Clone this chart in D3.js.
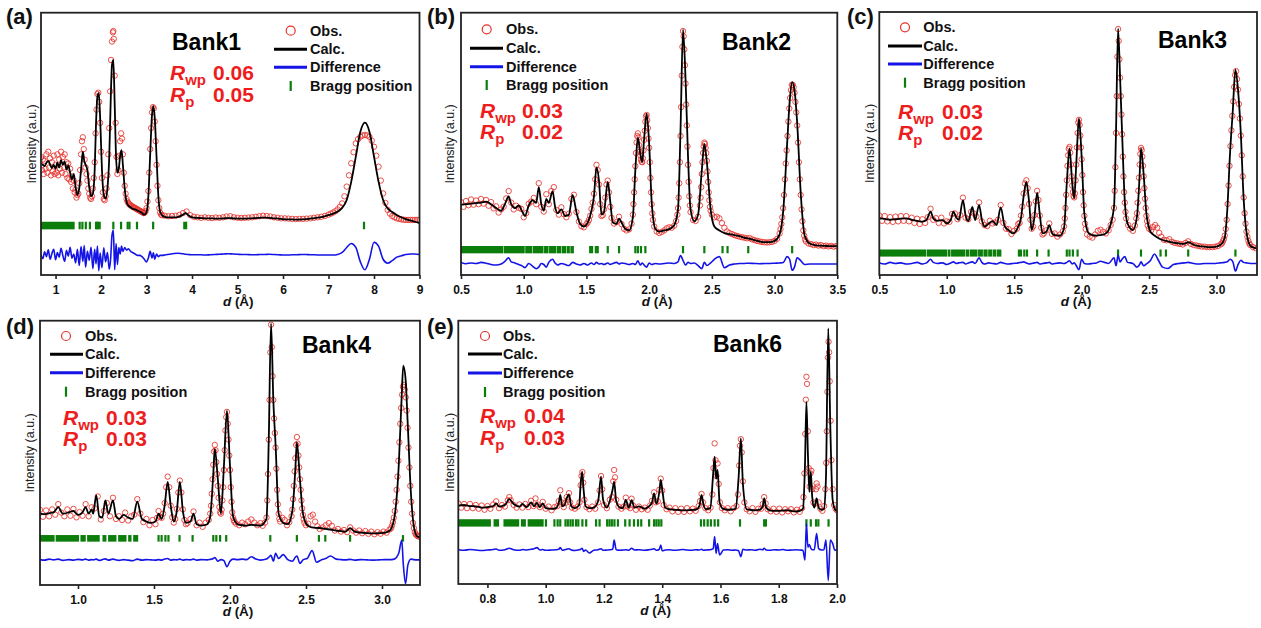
<!DOCTYPE html>
<html><head><meta charset="utf-8">
<script src="https://cdn.jsdelivr.net/npm/d3@7"></script>
<style>
html,body{margin:0;padding:0;background:#fff;}
svg text{font-family:"Liberation Sans",Arial,Helvetica,sans-serif;}
</style></head><body>
<svg id="chart" width="1261" height="628"></svg>
<script>
// ---------------- DATA (intensity in arbitrary units, 0-100 of plot height) ----------------
// Panel (a) Bank1 : calculated profile + difference (shared d grid)
const dA = [0.68,0.72,0.76,0.80,0.84,0.88,0.92,0.96,1.00,1.04,
1.08,1.12,1.16,1.20,1.24,1.28,1.32,1.36,1.40,1.44,
1.48,1.52,1.56,1.60,1.63,1.66,1.70,1.74,1.78,1.82,
1.86,1.89,1.92,1.95,1.98,2.02,2.06,2.10,2.14,2.18,
2.21,2.24,2.27,2.30,2.33,2.36,2.39,2.42,2.45,2.48,
2.52,2.56,2.60,2.65,2.70,2.75,2.80,2.85,2.90,2.95,
3.00,3.04,3.08,3.12,3.15,3.18,3.22,3.26,3.30,3.35,
3.40,3.50,3.60,3.70,3.80,3.86,3.92,4.00,4.10,4.20,
4.30,4.40,4.50,4.60,4.70,4.80,4.90,5.00,5.10,5.20,
5.30,5.40,5.50,5.60,5.70,5.80,5.90,6.00,6.10,6.20,
6.30,6.40,6.50,6.60,6.70,6.80,6.90,7.00,7.10,7.20,
7.30,7.40,7.50,7.60,7.70,7.80,7.90,8.00,8.10,8.20,
8.30,8.40,8.50,8.60,8.70,8.80,8.90,9.00];
const calcA = [42.5,42.0,41.5,42.8,43.5,42.0,40.8,42.0,40.5,42.8,
41.0,43.8,42.0,43.2,40.2,41.8,39.0,36.5,38.5,33.5,
30.5,33.0,40.0,47.0,43.5,42.0,40.0,33.5,30.0,31.0,
40.0,58.0,68.0,69.3,60.0,40.0,30.5,29.2,33.0,45.0,
65.0,80.0,82.0,65.0,45.0,39.0,40.5,45.5,47.6,42.0,
33.0,28.0,26.5,25.8,25.2,25.0,24.6,24.2,23.6,23.0,
24.0,30.0,46.0,61.0,64.4,60.0,45.0,30.0,24.0,22.6,
22.2,22.0,22.0,22.2,23.0,23.6,22.8,22.0,21.8,21.7,
21.6,21.6,21.5,21.5,21.6,21.7,21.6,21.5,21.5,21.5,
21.6,21.7,21.8,21.9,21.8,21.6,21.5,21.3,21.2,21.2,
21.1,21.2,21.3,21.5,21.7,22.0,22.3,22.8,23.4,24.2,
25.6,28.6,35.6,45.1,54.6,58.1,54.6,45.1,35.6,28.6,
25.4,24.0,22.9,22.0,21.3,20.8,20.3,19.8];
const diffA = [7.8,6.2,8.8,7.0,9.6,6.0,8.2,9.8,5.8,8.6,
6.8,10.2,7.4,5.2,9.4,7.2,10.6,6.4,8.0,4.6,
9.8,3.6,10.8,5.2,11.2,3.0,9.0,5.6,10.6,2.4,
9.8,4.2,11.0,1.6,8.4,2.8,10.4,5.0,8.6,2.2,
6.0,15.0,17.0,2.0,12.0,4.0,10.5,8.0,11.0,9.0,
10.5,9.5,10.0,9.0,8.5,8.0,7.5,7.5,7.0,6.0,
5.0,6.5,9.0,6.5,8.5,6.0,8.0,7.0,7.5,7.5,
7.6,7.9,8.2,8.3,8.1,7.9,7.8,7.7,7.7,7.7,
7.6,7.7,7.8,7.9,8.0,8.1,8.0,7.9,7.8,7.8,
7.7,7.7,7.8,7.8,7.9,7.8,7.7,7.6,7.6,7.7,
7.7,7.8,7.8,7.7,7.7,7.6,7.6,7.6,7.6,7.8,
8.6,10.5,12.0,10.5,5.0,2.0,6.0,12.5,11.0,6.0,
4.5,5.5,6.8,7.3,7.8,8.0,8.0,7.8];
// Panel (a) observed points
const dObsA = [0.68,0.70,0.72,0.74,0.76,0.78,0.80,0.82,0.84,0.86,
0.88,0.90,0.92,0.94,0.96,0.98,1.00,1.02,1.04,1.06,
1.08,1.10,1.12,1.14,1.16,1.18,1.20,1.22,1.24,1.26,
1.28,1.30,1.32,1.34,1.36,1.38,1.40,1.42,1.44,1.46,
1.48,1.50,1.52,1.54,1.56,1.58,1.60,1.62,1.64,1.66,
1.68,1.70,1.72,1.74,1.76,1.78,1.80,1.82,1.84,
1.86,1.88,1.90,1.92,1.94,1.96,1.98,2.00,2.02,2.04,
2.06,2.08,2.10,2.12,2.14,2.16,2.18,2.20,2.22,2.24,
2.26,2.27,2.28,
2.30,2.32,2.34,2.36,2.38,2.40,2.42,2.44,2.46,2.48,2.50,
2.52,2.54,2.56,2.58,2.60,2.62,2.64,2.66,2.68,2.70,
2.72,2.74,2.76,2.78,2.80,2.82,2.84,2.86,2.88,2.90,
2.92,2.94,2.96,2.98,3.00,3.02,3.04,3.06,3.08,3.10,
3.12,3.14,3.16,3.18,3.20,3.22,3.24,3.26,3.28,3.30,
3.32,3.34,
3.40,3.48,3.56,3.64,3.72,3.80,3.88,3.96,4.04,4.12,
4.20,4.28,4.36,4.44,4.52,4.60,4.68,4.76,4.84,4.92,
5.00,5.08,5.16,5.24,5.32,5.40,5.48,5.56,5.64,5.72,
5.80,5.88,5.96,6.04,6.12,6.20,6.28,6.36,6.44,6.52,
6.60,6.68,6.76,6.84,6.92,7.00,
7.05,7.10,7.15,7.20,7.25,7.30,7.35,7.40,7.45,7.50,
7.55,7.60,7.65,7.70,7.75,7.80,7.85,7.90,7.95,8.00,
8.05,8.10,8.15,8.20,8.25,8.30,8.35,8.40,8.45,8.50,
8.55,8.60,8.65,8.70,8.75,8.80,8.85,8.90,8.95,9.00];
const obsA = [45.0,40.0,44.0,38.5,43.5,40.5,46.0,39.0,47.0,41.0,
44.5,38.0,43.0,39.5,45.5,38.5,42.0,39.0,46.0,38.0,
44.0,40.5,47.0,39.0,45.0,41.0,46.0,38.5,43.0,37.0,
42.5,36.5,40.5,35.5,37.5,33.0,36.0,31.5,32.5,29.5,
30.5,31.0,35.0,40.0,46.0,51.0,52.5,48.0,44.0,41.0,
38.5,36.0,33.0,31.0,29.5,29.0,30.0,33.0,37.0,
43.0,54.0,63.0,69.0,69.5,66.0,58.0,47.0,37.0,31.5,
29.0,28.5,30.0,33.0,38.0,46.0,56.0,70.0,82.0,89.0,
92.5,93.0,90.0,
76.0,58.0,45.0,38.5,40.0,45.5,51.0,54.0,52.0,46.0,39.0,
34.0,31.0,29.0,28.0,27.5,27.0,26.8,26.4,26.2,26.0,
25.8,25.6,25.4,25.2,25.0,24.8,24.6,24.4,24.2,24.0,
23.8,23.6,23.8,24.4,25.5,28.0,32.0,39.0,48.0,56.0,
62.0,64.0,63.5,58.5,51.0,42.0,34.0,28.5,25.5,23.8,
23.0,22.8,
22.6,22.4,22.5,22.6,22.9,23.6,24.2,22.8,22.2,22.0,
21.8,22.0,21.8,21.7,21.9,21.8,22.0,22.3,22.4,22.0,
21.8,21.7,21.8,21.9,22.0,22.2,22.4,22.6,22.5,22.3,
22.0,21.8,21.6,21.6,21.5,21.4,21.3,21.4,21.4,21.5,
21.6,21.8,22.0,22.2,22.5,23.0,
23.4,23.8,24.3,25.0,26.0,27.3,30.0,33.7,38.0,42.6,
46.8,50.2,51.8,52.7,53.2,53.4,53.2,52.7,51.2,48.9,
45.5,41.3,36.0,31.1,27.5,24.8,23.4,22.5,22.0,21.6,
21.4,21.2,21.1,21.0,21.0,21.0,21.0,21.0,21.0,21.0];
const braggBandA = [[0.68,1.42]];
const braggA = [1.53,1.59,1.665,1.755,1.89,1.91,1.935,1.97,2.27,2.44,2.585,2.625,2.79,3.145,3.83,3.87,7.78];
const ticksA = [1,2,3,4,5,6,7,8,9];

// Panel (b) Bank2
const dB = [0.50,0.54,0.58,0.62,0.66,0.70,0.74,0.78,0.82,0.85,
0.88,0.90,0.93,0.96,0.99,1.01,1.04,1.07,1.10,1.12,
1.14,1.16,1.18,1.20,1.23,1.25,1.27,1.30,1.33,1.36,
1.39,1.42,1.45,1.48,1.51,1.54,1.56,1.58,1.60,1.62,
1.64,1.67,1.69,1.71,1.74,1.76,1.78,1.81,1.84,1.87,
1.89,1.91,1.93,1.945,1.96,1.98,2.00,2.02,2.05,2.08,
2.12,2.16,2.20,2.23,2.25,2.27,2.29,2.31,2.33,2.36,
2.39,2.42,2.44,2.46,2.49,2.52,2.56,2.60,2.64,2.68,
2.72,2.76,2.79,2.84,2.88,2.92,2.96,3.00,3.04,3.07,
3.10,3.12,3.14,3.16,3.18,3.21,3.24,3.28,3.32,3.36,
3.40,3.44,3.48,3.50];
const calcB = [26.7,27.0,27.2,27.4,27.6,28.0,27.0,25.5,24.5,27.0,
30.0,27.0,25.5,26.5,24.0,22.5,26.5,28.5,27.5,33.5,
27.0,24.5,29.0,27.5,32.0,26.0,23.5,25.0,22.5,23.0,
30.5,24.0,19.5,18.5,20.0,24.5,30.0,41.0,36.0,23.0,
24.0,35.5,28.0,20.0,19.5,21.5,20.0,17.5,17.0,22.0,
40.0,52.5,46.0,43.0,52.0,61.5,50.0,28.0,17.5,16.5,
17.0,17.5,19.0,25.0,55.0,93.5,75.0,45.0,25.0,20.5,
23.0,40.0,50.0,43.0,25.0,18.5,17.0,16.0,15.6,15.2,
14.8,14.2,14.0,13.3,12.8,12.5,12.5,13.0,15.5,25.0,
50.0,66.0,73.5,70.0,58.0,30.0,15.0,12.0,11.4,11.2,
11.1,11.0,11.0,11.1];
const diffB = [4.8,4.3,4.6,4.4,4.8,4.5,4.0,3.8,4.2,5.2,
6.6,5.0,4.6,4.0,3.4,2.8,4.4,3.4,2.4,3.0,
4.4,4.0,3.0,4.8,6.0,4.6,3.8,4.4,4.0,3.6,
4.8,4.2,3.8,4.4,3.8,4.6,4.0,4.8,4.2,4.4,
4.0,4.6,4.0,4.4,4.8,4.2,4.6,4.4,4.0,4.4,
4.0,5.4,3.8,4.6,3.8,3.0,4.6,4.0,4.4,4.2,
4.4,4.6,4.4,5.0,7.4,5.6,3.8,4.8,4.4,4.6,
3.6,2.4,4.8,3.6,4.6,6.0,7.0,2.8,3.8,4.2,
4.4,4.4,4.5,4.4,4.3,4.4,4.4,4.5,4.6,4.8,
7.0,6.0,1.8,3.2,6.6,5.4,4.0,4.2,4.2,4.2,
4.2,4.2,4.2,4.2];
const dObsB = [0.50,0.52,0.54,0.56,0.58,0.60,0.62,0.64,0.66,0.68,
0.70,0.72,0.74,0.76,0.78,0.80,0.82,0.84,0.86,0.88,
0.90,0.92,0.94,0.96,0.98,1.00,1.02,1.04,1.06,1.08,
1.10,1.12,1.14,1.16,1.18,1.20,1.22,1.24,1.26,1.28,
1.30,1.32,1.34,1.36,1.38,1.40,1.42,1.44,1.46,1.48,1.50,
1.51,1.52,1.53,1.54,1.55,1.56,1.57,1.58,1.59,1.60,
1.61,1.62,1.63,1.64,1.65,1.66,1.67,1.68,1.69,1.70,
1.72,1.74,1.76,1.78,1.80,1.82,1.84,1.86,
1.870,1.875,1.880,1.885,1.890,1.895,1.900,1.905,1.910,1.915,
1.920,1.925,1.930,1.935,1.940,1.945,1.950,1.955,1.960,1.965,
1.970,1.975,1.980,1.985,1.990,1.995,2.000,2.005,2.010,2.015,
2.020,2.025,2.030,2.040,
2.06,2.08,2.10,2.12,2.14,2.16,2.18,2.20,2.215,
2.225,2.230,2.235,2.240,2.245,2.250,2.255,2.260,2.265,2.270,
2.275,2.280,2.285,2.290,2.295,2.300,2.305,2.310,2.315,2.320,
2.325,2.330,
2.35,2.37,2.39,
2.405,2.410,2.415,2.420,2.425,2.430,2.435,2.440,2.445,2.450,
2.455,2.460,2.465,2.470,2.475,2.480,2.485,2.490,2.500,
2.52,2.54,2.56,2.58,2.60,2.62,2.64,2.66,2.68,2.70,
2.72,2.74,2.76,2.78,2.80,2.82,2.84,2.86,2.88,2.90,
2.92,2.94,2.96,2.98,3.00,3.02,
3.040,3.047,3.054,3.061,3.068,3.075,3.082,3.089,3.096,3.103,
3.110,3.117,3.124,3.131,3.138,3.145,3.152,3.159,3.166,3.173,
3.180,3.187,3.194,3.201,3.208,3.215,3.222,3.229,3.236,3.243,3.250,
3.27,3.29,3.31,3.33,3.35,3.37,3.39,3.41,3.43,3.45,3.47,3.49];
const obsB = [27.8,26.0,28.2,26.6,28.8,26.8,28.4,27.0,29.0,27.2,
28.6,26.4,27.8,25.4,26.2,23.8,25.0,26.0,29.2,32.0,
27.6,25.0,26.4,25.6,25.2,22.0,23.6,27.2,28.0,29.4,
27.0,35.0,26.0,24.2,30.8,27.0,32.0,33.5,24.8,23.0,
25.8,23.2,22.0,23.4,29.0,30.6,24.0,20.4,18.6,18.2,19.4,
20.0,21.0,22.6,25.2,27.6,31.0,36.5,42.0,40.0,34.5,
27.0,22.5,22.8,25.0,29.5,34.5,36.0,31.5,26.0,21.8,
19.6,20.2,22.2,19.4,17.6,17.0,17.4,19.6,
23.0,27.0,31.5,36.5,41.5,46.5,50.5,53.0,54.0,52.5,
49.5,47.0,45.5,44.0,43.2,43.0,44.5,47.5,51.5,55.0,
58.5,60.5,61.0,59.0,56.0,52.0,48.5,43.0,37.0,31.5,
27.0,23.5,21.0,18.5,
16.6,16.0,16.4,17.0,17.8,18.2,18.0,18.8,20.6,
23.0,25.5,29.5,35.0,43.0,53.0,64.0,76.0,87.0,93.0,
91.0,86.0,80.0,73.0,65.0,57.0,49.0,42.0,35.5,30.0,
26.5,24.0,
21.0,20.6,22.2,
26.5,29.5,33.5,38.5,43.0,46.5,49.0,50.5,50.0,48.5,
46.5,43.5,39.5,35.5,31.5,28.5,26.0,24.5,23.0,
22.0,22.2,21.6,19.8,18.0,16.6,16.0,15.6,15.2,14.9,
14.6,14.4,14.2,14.0,14.1,13.6,13.3,13.0,12.8,12.6,
12.5,12.4,12.5,12.6,13.0,13.8,
15.8,17.5,19.5,22.0,25.5,30.5,36.5,42.5,47.5,53.0,
58.5,63.5,67.5,70.5,72.5,72.5,71.5,69.5,66.0,62.0,
57.0,50.5,43.0,36.5,30.5,25.0,20.5,17.0,15.0,13.6,12.8,
12.0,11.8,11.4,11.6,11.2,11.4,11.0,11.2,10.9,11.1,10.8,11.0];
const braggBandB = [[0.50,0.838],[0.842,1.008],[1.012,1.068],[1.072,1.158],[1.162,1.198],[1.202,1.258],[1.262,1.298],[1.302,1.338],[1.342,1.368],[1.372,1.40]];
const braggB = [1.53,1.545,1.575,1.59,1.67,1.76,1.89,1.91,1.935,1.97,2.27,2.44,2.585,2.625,2.79,3.14];
const ticksB = [0.5,1.0,1.5,2.0,2.5,3.0,3.5];

// Panel (c) Bank3
const dC = [0.50,0.54,0.58,0.62,0.66,0.70,0.74,0.78,0.82,0.85,
0.88,0.90,0.93,0.97,1.00,1.03,1.05,1.07,1.09,1.12,
1.14,1.16,1.19,1.21,1.24,1.26,1.28,1.31,1.34,1.37,
1.40,1.43,1.46,1.49,1.53,1.55,1.57,1.59,1.61,1.63,
1.65,1.67,1.69,1.71,1.74,1.76,1.78,1.80,1.84,1.87,
1.89,1.91,1.93,1.945,1.96,1.98,2.00,2.02,2.05,2.08,
2.11,2.14,2.17,2.20,2.24,2.255,2.27,2.285,2.30,2.32,
2.34,2.38,2.41,2.43,2.44,2.46,2.48,2.51,2.54,2.57,
2.60,2.64,2.68,2.72,2.76,2.79,2.83,2.87,2.91,2.95,
2.99,3.03,3.06,3.08,3.10,3.12,3.14,3.16,3.18,3.20,
3.22,3.25,3.28,3.30];
const calcC = [21.5,21.3,21.0,21.2,21.4,21.5,21.0,20.6,20.3,20.9,
24.1,21.5,20.6,20.9,19.6,21.0,24.1,22.0,21.0,28.5,
22.5,20.5,25.9,20.9,26.6,21.0,18.4,19.5,20.5,19.0,
25.7,18.5,17.0,15.8,18.4,21.5,30.0,35.4,28.0,17.1,
22.0,31.3,23.0,15.8,16.5,19.0,16.0,15.2,15.0,18.0,
35.0,48.1,35.0,29.1,42.0,59.5,45.0,23.4,16.0,15.2,
15.0,15.2,15.5,17.1,25.9,55.0,93.7,75.0,53.8,28.0,
19.6,17.1,22.2,38.0,48.1,38.0,23.4,16.5,15.0,14.0,
13.3,12.8,12.3,12.0,11.8,12.5,11.5,11.0,10.8,10.6,
10.7,11.5,14.0,25.0,46.2,62.0,78.1,70.0,53.8,30.0,
17.1,11.2,10.3,10.1];
const diffC = [4.6,4.2,4.8,4.4,4.6,4.2,4.4,4.8,4.2,4.6,
6.0,4.8,4.4,4.6,4.0,4.6,5.0,4.4,4.6,4.8,
4.2,4.6,5.0,4.4,6.5,4.8,4.2,4.6,4.4,4.2,
4.8,4.4,4.2,4.4,4.6,4.8,5.0,4.6,4.2,4.4,
4.6,4.8,4.2,4.4,4.6,4.8,4.2,4.4,4.6,4.4,
4.8,5.4,4.2,4.6,3.6,2.0,6.0,4.4,4.2,4.4,
4.6,5.2,4.8,4.4,6.5,3.5,7.5,5.0,6.0,7.0,
4.8,4.4,3.0,4.0,5.0,3.5,4.2,5.5,8.0,5.5,
3.0,2.5,4.0,4.4,4.6,4.8,4.4,4.2,4.4,4.4,
4.4,4.6,4.8,5.0,6.0,5.2,1.5,4.0,5.6,4.8,
4.6,4.4,4.4,4.4];
const dObsC = [0.50,0.52,0.54,0.56,0.58,0.60,0.62,0.64,0.66,0.68,
0.70,0.72,0.74,0.76,0.78,0.80,0.82,0.84,0.86,0.88,
0.90,0.92,0.94,0.96,0.98,1.00,1.02,1.04,1.06,1.08,
1.10,1.12,1.14,1.16,1.18,1.20,1.22,1.24,1.26,1.28,
1.30,1.32,1.34,1.36,1.38,1.40,1.42,1.44,1.46,1.48,
1.50,1.52,
1.53,1.54,1.55,1.56,1.57,1.58,1.59,1.60,1.61,1.62,
1.63,1.64,1.65,1.66,1.67,1.68,1.69,1.70,1.71,1.72,
1.74,1.76,1.78,1.80,1.82,1.84,1.86,
1.870,1.875,1.880,1.885,1.890,1.895,1.900,1.905,1.910,1.915,
1.920,1.925,1.930,1.935,1.940,1.945,1.950,1.955,1.960,1.965,
1.970,1.975,1.980,1.985,1.990,1.995,2.000,2.005,2.010,2.015,
2.020,2.025,2.030,2.040,
2.06,2.08,2.10,2.12,2.14,2.16,2.18,2.20,2.215,2.23,
2.240,2.245,2.250,2.255,2.260,2.265,2.270,2.275,2.280,2.285,
2.290,2.295,2.300,2.305,2.310,2.315,2.320,2.325,2.330,
2.345,2.36,2.38,2.395,2.405,
2.410,2.415,2.420,2.425,2.430,2.435,2.440,2.445,2.450,2.455,
2.460,2.465,2.470,2.475,2.480,2.485,2.490,2.500,
2.515,2.530,2.545,2.560,2.575,2.590,2.61,2.63,2.65,2.67,
2.69,2.71,2.73,2.75,2.77,2.79,2.81,2.83,2.85,2.87,
2.89,2.91,2.93,2.95,2.97,2.99,3.01,3.03,
3.040,3.047,3.054,3.061,3.068,3.075,3.082,3.089,3.096,3.103,
3.110,3.117,3.124,3.131,3.138,3.145,3.152,3.159,3.166,3.173,
3.180,3.187,3.194,3.201,3.208,3.215,3.222,3.229,3.236,3.243,3.250,
3.27,3.29];
const obsC = [22.6,20.6,22.4,20.4,22.0,20.2,22.2,20.4,22.4,20.6,
22.4,20.4,21.8,19.8,21.4,19.4,21.2,19.8,22.0,25.2,
21.0,21.6,19.8,21.8,19.6,20.4,20.2,23.2,23.4,21.2,
22.8,29.4,21.8,21.2,24.0,23.4,22.2,27.6,20.4,19.0,
18.6,20.6,19.6,20.0,21.0,26.6,19.8,17.6,17.4,15.6,
16.8,17.6,
19.4,19.8,22.6,26.0,31.0,34.8,36.0,33.0,27.0,21.0,
17.6,18.4,22.8,28.0,32.0,28.5,22.6,18.0,15.4,15.8,
17.0,19.6,15.6,15.8,14.6,15.4,16.6,
18.5,21.5,25.5,30.5,36.0,41.5,45.5,48.0,48.7,46.5,
42.0,37.5,34.0,31.5,30.0,29.5,31.0,36.0,42.0,48.5,
54.0,58.0,59.0,57.0,53.0,48.5,44.0,38.0,31.5,26.5,
22.5,19.5,17.5,15.4,
14.6,14.2,15.4,16.8,17.2,16.4,15.8,17.0,19.0,21.0,
25.5,32.0,41.0,54.0,68.0,83.0,93.5,89.0,82.0,75.0,
68.0,61.0,53.5,45.0,37.5,31.5,27.5,24.0,21.5,
19.0,17.6,16.8,18.8,21.5,
23.5,27.5,32.0,37.0,42.0,46.0,48.3,47.5,45.0,41.5,
37.5,33.0,29.0,25.5,22.5,20.5,18.8,17.6,
17.0,18.2,19.0,18.0,16.0,14.6,13.4,13.2,13.6,12.6,
12.2,12.0,11.8,11.6,12.2,12.8,11.8,11.4,11.2,11.0,
10.8,10.8,10.6,10.6,10.6,10.8,11.0,11.6,
12.0,12.8,13.6,15.0,17.5,21.0,27.0,34.0,41.5,49.0,
55.0,60.5,66.0,71.5,76.0,77.5,74.5,70.5,65.0,59.5,
53.0,45.5,37.5,29.5,23.5,19.5,16.5,14.5,13.0,12.0,11.4,
10.6,10.2];
const braggBandC = [[0.50,0.848],[0.852,1.003],[1.007,1.028],[1.032,1.138],[1.142,1.168],[1.172,1.228],[1.232,1.268],[1.272,1.303],[1.307,1.338],[1.342,1.368],[1.372,1.405]];
const braggC = [1.535,1.55,1.575,1.595,1.67,1.755,1.89,1.91,1.935,1.97,2.27,2.44,2.585,2.625,2.79,3.14];
const ticksC = [0.5,1.0,1.5,2.0,2.5,3.0];

// Panel (d) Bank4
const dD = [0.75,0.78,0.81,0.84,0.87,0.90,0.94,0.97,1.00,1.03,
1.05,1.07,1.09,1.10,1.12,1.14,1.16,1.18,1.20,1.23,
1.25,1.27,1.30,1.33,1.36,1.39,1.42,1.45,1.48,1.51,
1.53,1.55,1.57,1.59,1.61,1.63,1.65,1.67,1.69,1.71,
1.74,1.76,1.78,1.81,1.85,1.87,1.89,1.90,1.92,1.94,
1.96,1.98,2.00,2.02,2.05,2.08,2.11,2.14,2.17,2.20,
2.24,2.255,2.27,2.285,2.30,2.32,2.35,2.38,2.41,2.43,
2.44,2.46,2.48,2.51,2.54,2.57,2.60,2.63,2.66,2.70,
2.73,2.76,2.79,2.82,2.86,2.90,2.94,2.98,3.02,3.05,
3.08,3.11,3.13,3.14,3.155,3.17,3.19,3.21,3.23,3.25];
const calcD = [27.0,26.8,27.2,27.5,29.5,27.0,27.5,28.0,26.5,27.5,
29.5,27.0,28.5,27.0,34.0,26.0,25.5,32.0,27.0,32.0,
26.0,25.0,26.5,25.5,25.0,31.5,25.0,24.0,23.5,24.0,
27.0,25.0,30.0,39.0,30.0,24.0,28.0,39.0,28.0,23.5,
24.0,27.0,23.0,22.5,23.0,26.0,42.0,51.5,40.0,27.0,
45.0,66.0,45.0,26.0,23.0,22.6,22.5,22.8,22.6,22.5,
25.0,55.0,99.0,70.0,53.0,27.0,23.5,23.0,28.0,44.0,
54.0,40.0,27.0,22.5,21.8,21.6,21.5,21.2,21.0,20.6,
20.4,20.2,21.5,20.2,19.8,19.6,19.5,19.6,19.8,20.5,
25.0,45.0,72.0,83.0,78.0,60.0,35.0,22.0,18.5,18.0];
const diffD = [9.6,9.4,9.8,9.5,9.8,9.3,9.6,9.4,9.7,9.5,
9.8,9.4,9.6,9.5,9.8,9.3,9.6,9.9,9.4,9.8,
9.5,9.3,9.6,9.4,9.2,9.8,9.4,9.6,9.5,9.4,
9.6,9.4,9.8,10.0,9.4,9.6,9.5,9.8,9.4,9.6,
9.5,9.8,9.4,9.6,9.5,9.7,10.0,10.4,9.0,9.6,
9.2,6.9,9.0,9.8,9.6,9.8,9.6,10.7,9.8,9.4,
9.8,10.5,11.2,9.0,12.0,10.0,11.5,9.6,9.0,10.5,
11.0,8.2,9.5,10.2,13.0,8.6,9.5,10.0,11.0,9.8,
9.6,9.5,9.7,9.4,9.6,9.5,9.4,9.5,9.6,9.6,
9.8,12.0,17.0,8.0,0.5,7.5,9.8,9.6,9.5,9.5];
const dObsD = [0.75,0.77,0.79,0.81,0.83,0.85,0.87,0.89,0.91,0.93,
0.95,0.97,0.99,1.01,1.03,1.05,1.07,1.09,1.11,1.13,
1.15,1.17,1.19,1.21,1.23,1.25,1.27,1.29,1.31,1.33,
1.35,1.37,1.39,1.41,1.43,1.45,1.47,1.49,1.51,
1.52,1.53,1.54,1.55,1.56,1.57,1.58,1.59,1.60,1.61,
1.62,1.63,1.64,1.65,1.66,1.67,1.68,1.69,1.70,1.71,1.72,
1.74,1.76,1.78,1.80,1.82,1.84,1.86,
1.870,1.875,1.880,1.885,1.890,1.895,1.900,1.905,1.910,1.915,
1.920,1.925,1.930,1.935,1.940,1.945,1.950,1.955,1.960,1.965,
1.970,1.975,1.980,1.985,1.990,1.995,2.000,2.005,2.010,2.015,
2.020,2.025,2.030,2.040,
2.06,2.08,2.10,2.12,2.14,2.16,2.18,2.20,2.215,2.23,
2.240,2.245,2.250,2.255,2.260,2.265,2.270,2.275,2.280,2.285,
2.290,2.295,2.300,2.305,2.310,2.315,2.320,2.325,2.330,
2.345,2.36,2.375,2.39,2.405,
2.410,2.415,2.420,2.425,2.430,2.435,2.440,2.445,2.450,2.455,
2.460,2.465,2.470,2.475,2.480,2.485,2.490,2.500,
2.515,2.530,2.545,2.560,2.575,2.590,2.61,2.63,2.65,2.67,
2.69,2.71,2.73,2.75,2.77,2.79,2.81,2.83,2.85,2.87,
2.89,2.91,2.93,2.95,2.97,2.99,3.01,3.03,3.05,
3.060,3.066,3.072,3.078,3.084,3.090,3.096,3.102,3.108,3.114,
3.120,3.126,3.132,3.138,3.144,3.150,3.156,3.162,3.168,3.174,
3.180,3.186,3.192,3.198,3.204,3.210,3.216,3.222,3.228,3.234,
3.240,3.246];
const obsD = [28.4,25.8,28.2,26.0,28.6,26.6,30.6,27.4,26.0,28.6,
26.2,28.8,25.6,27.6,26.2,30.6,26.0,29.4,29.0,33.5,
24.8,28.0,31.0,26.0,33.0,25.0,26.0,24.6,27.4,24.4,
26.0,26.6,32.5,27.0,23.8,25.0,22.6,24.6,23.0,
25.4,28.0,25.8,25.4,27.0,31.0,37.0,41.0,37.0,30.0,
25.6,23.6,25.0,28.8,35.0,39.5,35.0,28.6,24.6,23.0,23.4,
25.0,27.8,22.6,23.6,22.0,23.6,24.6,
27.0,30.0,34.5,40.0,45.5,50.5,53.0,51.0,46.5,42.0,
37.5,33.0,29.5,27.5,27.0,28.5,32.0,37.0,43.5,51.0,
58.5,63.5,65.5,61.0,55.0,49.0,43.5,37.0,31.5,27.5,
25.5,24.5,23.8,23.2,
22.6,23.6,23.0,24.0,24.8,23.6,22.6,23.4,22.4,23.6,
25.5,32.0,42.0,55.0,70.0,88.0,98.5,90.0,79.0,70.0,
63.0,57.5,52.0,44.0,36.0,30.5,27.0,25.0,24.0,
25.4,24.6,22.6,23.8,26.0,
28.5,32.5,37.5,43.0,48.0,53.0,56.0,53.5,49.0,44.5,
40.0,36.0,32.0,29.0,26.5,24.8,23.6,22.6,
23.2,26.0,26.6,24.0,22.2,21.2,21.8,22.6,23.4,22.4,
20.6,21.2,20.2,20.8,20.0,21.8,20.6,19.8,20.6,19.6,
20.4,19.4,20.2,19.2,20.0,19.4,20.2,19.8,21.0,
21.5,22.5,23.8,25.5,28.0,31.5,36.0,41.0,47.0,54.0,
61.0,67.0,72.0,75.0,75.7,74.0,71.0,66.0,59.5,52.0,
44.5,37.5,31.5,27.0,23.5,21.5,20.0,19.2,18.8,18.6,
18.4,18.3];
const braggBandD = [[0.75,0.846],[0.853,1.007],[1.016,1.051],[1.06,1.143],[1.161,1.187],[1.198,1.253],[1.264,1.319],[1.33,1.352],[1.363,1.396]];
const braggD = [1.53,1.55,1.575,1.595,1.668,1.754,1.89,1.91,1.935,1.975,2.265,2.44,2.585,2.627,2.79,3.138];
const ticksD = [1.0,1.5,2.0,2.5,3.0];

// Panel (e) Bank6
const dE = [0.70,0.72,0.74,0.76,0.78,0.80,0.82,0.83,0.84,0.86,
0.875,0.89,0.91,0.92,0.935,0.95,0.96,0.97,0.98,0.99,
1.00,1.02,1.035,1.045,1.05,1.057,1.065,1.072,1.08,1.088,
1.10,1.115,1.12,1.125,1.13,1.137,1.15,1.165,1.18,1.19,
1.197,1.21,1.22,1.23,1.235,1.242,1.255,1.265,1.275,1.285,
1.295,1.305,1.32,1.34,1.355,1.365,1.372,1.38,1.39,1.395,
1.40,1.41,1.425,1.44,1.455,1.47,1.485,1.50,1.515,1.527,
1.535,1.542,1.55,1.565,1.575,1.58,1.585,1.59,1.597,1.61,
1.625,1.64,1.652,1.662,1.67,1.677,1.69,1.705,1.72,1.735,
1.745,1.75,1.757,1.77,1.785,1.80,1.815,1.83,1.845,1.86,
1.872,1.883,1.89,1.895,1.90,1.905,1.91,1.915,1.922,1.93,
1.937,1.947,1.955,1.962,1.97,1.977,1.985,1.993,2.00];
const calcE = [29.8,30.0,29.6,29.5,29.0,29.2,29.6,30.6,29.4,30.0,
32.2,30.4,29.4,30.4,29.2,31.0,29.5,30.8,29.2,30.6,
28.8,28.5,28.8,31.0,33.8,29.5,30.0,32.5,34.0,29.5,
28.8,30.0,38.0,42.7,36.0,29.5,28.8,29.0,31.5,40.8,
32.0,29.0,31.5,36.0,38.9,31.5,29.0,28.8,31.9,29.0,
31.8,29.0,29.5,28.6,29.6,31.0,34.4,30.5,35.0,39.5,
36.0,29.0,28.4,28.2,28.1,28.0,28.0,28.1,28.2,29.5,
33.8,30.0,28.4,28.8,42.0,48.4,40.0,43.3,31.0,28.5,
28.2,28.3,28.6,40.0,55.3,38.0,28.4,28.1,28.0,28.2,
29.5,32.5,29.0,28.0,27.8,27.8,27.9,28.0,27.7,27.6,
27.8,28.5,45.0,69.2,50.0,35.0,42.7,33.0,29.0,32.5,
29.0,28.2,28.5,40.0,97.1,60.0,32.0,28.4,27.8];
const diffE = [13.0,12.8,13.1,12.9,12.7,12.9,13.1,13.3,12.8,13.0,
13.6,13.0,12.8,13.1,12.9,13.2,13.4,13.8,12.9,13.1,
12.8,12.9,13.0,13.2,13.8,12.8,13.0,13.2,13.4,12.9,
12.7,13.0,13.2,13.6,12.4,12.9,11.8,12.8,13.0,13.4,
12.8,12.9,13.0,13.2,16.7,13.0,12.8,12.9,13.0,12.8,
13.6,12.9,13.0,12.8,13.0,13.2,13.4,12.8,13.2,14.8,
12.6,12.9,13.0,12.8,12.9,13.1,12.9,12.8,13.0,12.9,
13.2,12.8,12.9,13.0,13.4,18.0,11.6,15.4,11.0,12.9,
13.0,12.8,12.9,12.6,10.4,13.2,12.9,13.0,12.8,13.2,
13.0,13.6,12.9,12.8,13.0,12.9,13.1,12.8,12.9,13.0,
12.9,12.8,9.1,23.0,14.0,15.0,13.6,13.0,13.0,19.2,
13.4,12.9,13.0,16.7,1.3,16.7,15.4,12.8,13.0];
const dObsE = [0.700,0.710,0.720,0.730,0.740,0.750,0.760,0.770,0.780,0.790,
0.800,0.810,0.820,0.830,0.840,0.850,0.860,0.870,0.875,0.880,
0.890,0.900,0.910,0.920,0.930,0.940,0.950,0.958,0.965,0.972,
0.980,0.990,1.000,1.010,1.020,1.030,1.040,1.045,1.050,1.055,
1.062,1.068,1.072,1.076,1.080,1.084,1.090,1.100,1.110,1.116,
1.120,1.123,1.126,1.129,1.133,1.140,1.150,1.160,1.170,1.180,
1.185,1.190,1.194,1.200,1.210,1.220,1.228,1.232,1.235,1.238,
1.242,1.250,1.260,1.268,1.275,1.282,1.290,1.295,1.300,1.310,
1.320,1.330,1.340,1.350,1.358,1.365,1.372,1.378,1.385,1.390,
1.395,1.400,1.405,1.415,1.425,1.435,1.445,1.455,1.465,1.475,
1.485,1.495,1.505,1.515,1.525,1.530,1.535,1.540,1.548,1.558,
1.566,1.572,1.576,1.580,1.583,1.586,1.590,1.594,1.598,1.605,
1.615,1.625,1.635,1.645,1.655,1.660,1.664,1.667,1.670,1.673,
1.677,1.682,1.690,1.700,1.710,1.720,1.730,1.740,1.745,1.750,
1.755,1.762,1.772,1.782,1.792,1.802,1.812,1.822,1.832,1.842,
1.852,1.862,1.872,1.880,1.885,1.888,1.891,1.893,1.895,1.897,
1.900,1.903,1.906,1.909,1.912,1.915,1.919,1.924,1.928,1.930,
1.933,1.937,1.943,1.950,1.956,1.960,1.963,1.965,1.967,1.969,
1.971,1.973,1.975,1.978,1.981,1.985,1.990,1.995,2.000];
const obsE = [30.6,29.0,30.4,28.8,30.4,28.8,30.0,28.6,29.8,28.2,
29.6,28.6,30.2,31.4,28.8,30.0,29.4,31.8,33.0,31.8,
30.0,29.0,30.2,29.0,30.4,29.2,31.6,29.6,32.5,30.2,
29.2,31.2,28.6,29.4,28.0,29.2,29.6,31.5,35.6,31.0,
29.2,30.8,33.0,32.0,34.5,31.0,29.0,28.6,29.4,31.0,
37.5,41.0,42.5,38.5,32.0,29.2,28.4,29.4,28.6,31.0,
35.5,41.0,36.0,30.0,28.8,32.0,33.0,39.0,43.3,40.5,
32.0,29.4,28.6,29.4,32.8,29.4,28.8,32.4,29.8,28.2,
29.4,28.4,29.0,28.2,29.8,31.6,34.8,31.0,31.4,35.8,
40.0,35.5,30.0,28.4,29.0,27.6,28.8,27.4,28.6,27.4,
28.8,27.6,28.6,27.8,29.6,31.5,34.2,31.0,28.8,28.0,
29.0,34.0,44.0,53.4,47.0,41.0,45.8,38.0,31.0,28.8,
28.0,28.8,27.6,28.8,29.6,34.0,45.0,52.5,55.0,50.0,
39.0,31.0,28.4,27.6,28.8,27.4,28.6,28.6,30.4,33.0,
30.6,28.4,27.6,28.6,27.4,28.6,27.2,28.4,27.6,28.4,
27.2,28.2,27.4,28.8,33.0,42.0,57.0,70.0,78.7,76.0,
58.0,44.0,37.0,42.0,43.0,36.0,31.0,30.5,36.0,38.2,
37.0,31.0,28.6,27.8,29.6,36.0,46.0,58.0,73.0,86.0,
92.0,88.0,77.0,62.0,47.0,36.0,30.0,28.6,28.0];
const braggBandE = [[0.70,0.812],[0.821,0.840],[0.855,0.909],[0.915,0.932],[0.938,0.993]];
const braggE = [1.001,1.030,1.041,1.050,1.068,1.076,1.085,1.093,1.104,1.112,1.126,1.139,1.173,1.185,1.211,1.219,1.227,1.236,1.248,1.273,1.288,1.303,1.317,1.328,1.355,1.372,1.380,1.388,1.397,1.533,1.544,1.556,1.567,1.580,1.592,1.667,1.750,1.756,1.895,1.910,1.928,1.936,1.971];
const ticksE = [0.8,1.0,1.2,1.4,1.6,1.8,2.0];

const legendItems = ["Obs.","Calc.","Difference","Bragg position"];

// ---------------- LAYOUT / STYLE ----------------
const panels = [
 {id:"a", label:"(a)", title:"Bank1", rwp:"0.06", rp:"0.05", d:dA, calc:calcA, diff:diffA, dObs:dObsA, obs:obsA, band:braggBandA, bragg:braggA, ticks:ticksA, fmt:d3.format("d"),
  box:[41,12.7,419.5,275], domain:[0.68,9.0], braggV:[20.3,17.4],
  labelXY:[6,24], titleXY:[172,50], rX:170, rY:[80,101.7], valX:213, leg:{x0:274,x1:307,cx:290.7,tx:310,ys:[30.7,49.3,67.3,86]}, ylabX:31.6},
 {id:"b", label:"(b)", title:"Bank2", rwp:"0.03", rp:"0.02", d:dB, calc:calcB, diff:diffB, dObs:dObsB, obs:obsB, band:braggBandB, bragg:braggB, ticks:ticksB, fmt:d3.format(".1f"),
  box:[461,12.7,837.3,275], domain:[0.5,3.5], braggV:[11.05,8.26],
  labelXY:[427,24], titleXY:[722,50], rX:480, rY:[118.3,139.3], valX:522, leg:{x0:470,x1:503,cx:486.7,tx:506,ys:[29.3,48.3,66.7,85]}, ylabX:450},
 {id:"c", label:"(c)", title:"Bank3", rwp:"0.03", rp:"0.02", d:dC, calc:calcC, diff:diffC, dObs:dObsC, obs:obsC, band:braggBandC, bragg:braggC, ticks:ticksC, fmt:d3.format(".1f"),
  box:[879.3,12.0,1257,275], domain:[0.5,3.3], braggV:[9.7,7.0],
  labelXY:[847,24], titleXY:[1158,48], rX:898, rY:[119,140], valX:942, leg:{x0:888,x1:922,cx:905,tx:923.3,ys:[27.3,46,64,82.7]}, ylabX:869.5},
 {id:"d", label:"(d)", title:"Bank4", rwp:"0.03", rp:"0.03", d:dD, calc:calcD, diff:diffD, dObs:dObsD, obs:obsD, band:braggBandD, bragg:braggD, ticks:ticksD, fmt:d3.format(".1f"),
  box:[40,320.7,420,585], domain:[0.75,3.25], braggV:[18.9,16.4],
  labelXY:[6,334], titleXY:[302,353], rX:63, rY:[425,445.5], valX:106, leg:{x0:50,x1:83,cx:66,tx:85,ys:[336,354.3,372.7,391.7]}, ylabX:30},
 {id:"e", label:"(e)", title:"Bank6", rwp:"0.04", rp:"0.03", d:dE, calc:calcE, diff:diffE, dObs:dObsE, obs:obsE, band:braggBandE, bragg:braggE, ticks:ticksE, fmt:d3.format(".1f"),
  box:[458.3,320.7,837,584], domain:[0.7,2.0], braggV:[24.6,21.8],
  labelXY:[427,334], titleXY:[713,352], rX:480, rY:[423,445], valX:524, leg:{x0:468,x1:502,cx:485,tx:503,ys:[336,354,373,392]}, ylabX:450}
];

const COL = {obs:"#e8312c", calc:"#000000", diff:"#1414e6", bragg:"#0b7d0b", red:"#ee1d1d", frame:"#222"};
const svg = d3.select("#chart");
const defs = svg.append("defs");

panels.forEach(p => {
  const [L,T,R,B] = p.box;
  const x = d3.scaleLinear().domain(p.domain).range([L,R]);
  const y = d3.scaleLinear().domain([0,100]).range([B,T]);
  const n = Math.min(p.d.length, p.calc.length, p.diff.length);
  const idx = d3.range(n);
  const nObs = Math.min(p.dObs.length, p.obs.length);
  const obsIdx = d3.range(nObs);

  defs.append("clipPath").attr("id","clip-"+p.id)
    .append("rect").attr("x",L).attr("y",T).attr("width",R-L).attr("height",B-T);
  const g = svg.append("g").attr("clip-path","url(#clip-"+p.id+")");

  // Bragg band & ticks
  g.selectAll("rect.band").data(p.band).join("rect").attr("class","band")
    .attr("x", b=>x(b[0])).attr("width", b=>Math.max(1,x(b[1])-x(b[0])))
    .attr("y", y(p.braggV[0])).attr("height", y(p.braggV[1])-y(p.braggV[0]))
    .attr("fill", COL.bragg);
  g.selectAll("line.bragg").data(p.bragg).join("line").attr("class","bragg")
    .attr("x1", v=>x(v)).attr("x2", v=>x(v))
    .attr("y1", y(p.braggV[0])).attr("y2", y(p.braggV[1]))
    .attr("stroke", COL.bragg).attr("stroke-width", 2.2);

  // difference
  const line = d3.line().x(i=>x(p.d[i])).curve(d3.curveMonotoneX);
  g.append("path").attr("d", line.y(i=>y(p.diff[i]))(idx))
    .attr("fill","none").attr("stroke",COL.diff).attr("stroke-width",1.6).attr("stroke-linejoin","round");

  // observed circles
  g.selectAll("circle.obs").data(obsIdx).join("circle").attr("class","obs")
    .attr("cx", i=>x(p.dObs[i])).attr("cy", i=>y(p.obs[i])).attr("r", 2.7)
    .attr("fill","none").attr("stroke",COL.obs).attr("stroke-width",1).attr("stroke-opacity",0.85);

  // calculated
  g.append("path").attr("d", line.y(i=>y(p.calc[i]))(idx))
    .attr("fill","none").attr("stroke",COL.calc).attr("stroke-width",1.8).attr("stroke-linejoin","round");

  // frame
  svg.append("rect").attr("x",L).attr("y",T).attr("width",R-L).attr("height",B-T)
    .attr("fill","none").attr("stroke",COL.frame).attr("stroke-width",1.8);

  // x axis
  const ax = svg.append("g").attr("transform",`translate(0,${B})`)
    .call(d3.axisBottom(x).tickValues(p.ticks).tickFormat(p.fmt).tickSize(4).tickPadding(6));
  ax.select(".domain").remove();
  ax.selectAll(".tick line").attr("stroke",COL.frame).attr("stroke-width",1.6);
  ax.selectAll(".tick text").attr("fill","#111").style("font-size","12px").style("font-weight","bold")
    .style("font-family",'"Liberation Sans",Arial,sans-serif');

  // x label
  const xl = svg.append("text").attr("x",(L+R)/2+8).attr("y",B+31).attr("text-anchor","middle")
    .attr("fill","#111").style("font-size","13.5px").style("font-weight","bold");
  xl.append("tspan").style("font-style","italic").text("d");
  xl.append("tspan").text(" (Å)");

  // y label
  svg.append("text").attr("transform",`translate(${p.ylabX},${(T+B)/2}) rotate(-90)`)
    .attr("text-anchor","middle").attr("dominant-baseline","central")
    .attr("fill","#222").style("font-size","12.5px").text("Intensity (a.u.)");

  // panel label
  svg.append("text").attr("x",p.labelXY[0]).attr("y",p.labelXY[1])
    .attr("fill","#111").style("font-size","22px").style("font-weight","bold").text(p.label);

  // title
  svg.append("text").attr("x",p.titleXY[0]).attr("y",p.titleXY[1])
    .attr("fill","#000").style("font-size","23px").style("font-weight","bold").text(p.title);

  // R factors
  [["wp",p.rwp],["p",p.rp]].forEach(([sub,val],k)=>{
    const t = svg.append("text").attr("x",p.rX).attr("y",p.rY[k]).attr("fill",COL.red)
      .style("font-size","21px").style("font-weight","bold");
    t.append("tspan").style("font-style","italic").text("R");
    t.append("tspan").attr("dy",5).style("font-size","15px").text(sub);
    svg.append("text").attr("x",p.valX).attr("y",p.rY[k]).attr("fill",COL.red)
      .style("font-size","21px").style("font-weight","bold").text(val);
  });

  // legend
  const lg = p.leg;
  svg.append("circle").attr("cx",lg.cx).attr("cy",lg.ys[0]).attr("r",4.5)
    .attr("fill","none").attr("stroke",COL.obs).attr("stroke-width",1.2);
  svg.append("line").attr("x1",lg.x0).attr("x2",lg.x1).attr("y1",lg.ys[1]).attr("y2",lg.ys[1])
    .attr("stroke",COL.calc).attr("stroke-width",3);
  svg.append("line").attr("x1",lg.x0).attr("x2",lg.x1).attr("y1",lg.ys[2]).attr("y2",lg.ys[2])
    .attr("stroke",COL.diff).attr("stroke-width",3);
  svg.append("line").attr("x1",lg.cx).attr("x2",lg.cx).attr("y1",lg.ys[3]-5).attr("y2",lg.ys[3]+5)
    .attr("stroke",COL.bragg).attr("stroke-width",2.2);
  legendItems.forEach((txt,k)=>{
    svg.append("text").attr("x",lg.tx).attr("y",lg.ys[k]+5).attr("fill","#111")
      .style("font-size","14.5px").style("font-weight","bold").text(txt);
  });
});
</script>
</body></html>
